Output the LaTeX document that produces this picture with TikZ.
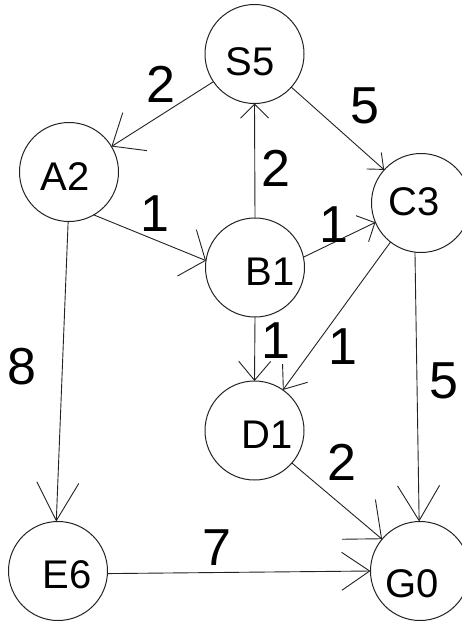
\documentclass[tikz,border=0pt]{standalone}
\usepackage{fontspec}
\setmainfont{Liberation Sans}
\usetikzlibrary{arrows.meta}
\definecolor{ink}{HTML}{222222}
\tikzset{
  vtx/.style={circle, draw=ink, line width=1pt, minimum size=99pt, inner sep=0pt, outer sep=0pt},
  vname/.style={inner sep=0pt, font=\fontsize{40}{40}\selectfont, text=black},
  wt/.style={inner sep=0pt, font=\fontsize{52}{52}\selectfont, text=black},
  edge/.style={draw=ink, line width=0.9pt},
  tipp/.style 2 args={-{Straight Barb[length=#1, width=#2, line width=0.9pt]}}
}
\begin{document}
\begin{tikzpicture}[x=1pt, y=-1pt]
  \useasboundingbox (0,0) rectangle (461,624);
  \fill[white] (0,0) rectangle (461,624);

  % vertices
  \node[vtx] (S5) at (254.5,54) {};
  \node[vtx] (A2) at (69,172) {};
  \node[vtx] (C3) at (421,203) {};
  \node[vtx] (B1) at (255,267.5) {};
  \node[vtx] (D1) at (254.5,430.5) {};
  \node[vtx] (E6) at (58,571) {};
  \node[vtx] (G0) at (420,571) {};

  % vertex names
  \node[vname] (tS5) at (250,62) {S5};
  \node[vname] (tA2) at (65,177) {A2};
  \node[vname] (tC3) at (414,202) {C3};
  \node[vname] (tB1) at (270,272) {B1};
  \node[vname] (tD1) at (267,435) {D1};
  \node[vname] (tE6) at (67,575) {E6};
  \node[vname] (tG0) at (412,584) {G0};

  % directed edges
  \draw[edge, tipp={27pt}{45pt}] (S5.214) -- (A2.31);
  \draw[edge, tipp={13pt}{22pt}] (S5.318) -- (C3.138);
  \draw[edge, tipp={14pt}{28pt}] (B1.90) -- (S5.270);
  \draw[edge, tipp={20pt}{50pt}] (A2.300) -- (B1.172);
  \draw[edge, tipp={14pt}{29pt}] (B1.12) -- (C3.203);
  \draw[edge, tipp={38pt}{42pt}] (A2.269) -- (E6.92);
  \draw[edge, tipp={19pt}{32pt}] (B1.270) -- (D1.90);
  \draw[edge, tipp={20pt}{31pt}] (C3.232) -- (D1.55);
  \draw[edge, tipp={35pt}{42pt}] (C3.263) -- (G0.91);
  \draw[edge, tipp={30pt}{52pt}] (D1.319) -- (G0.140);
  \draw[edge, tipp={28pt}{38pt}] (E6.357) -- (G0.180);

  % edge weights
  \node[wt] (wSA) at (161,84) {2};
  \node[wt] (wSC) at (365,106) {5};
  \node[wt] (wBS) at (276,168) {2};
  \node[wt] (wAB) at (155,214) {1};
  \node[wt] (wBC) at (334,225) {1};
  \node[wt] (wAE) at (22,367) {8};
  \node[wt] (wBD) at (276,341) {1};
  \node[wt] (wCD) at (343,347) {1};
  \node[wt] (wCG) at (444,381) {5};
  \node[wt] (wDG) at (342,462) {2};
  \node[wt] (wEG) at (217,548) {7};
\end{tikzpicture}
\end{document}
